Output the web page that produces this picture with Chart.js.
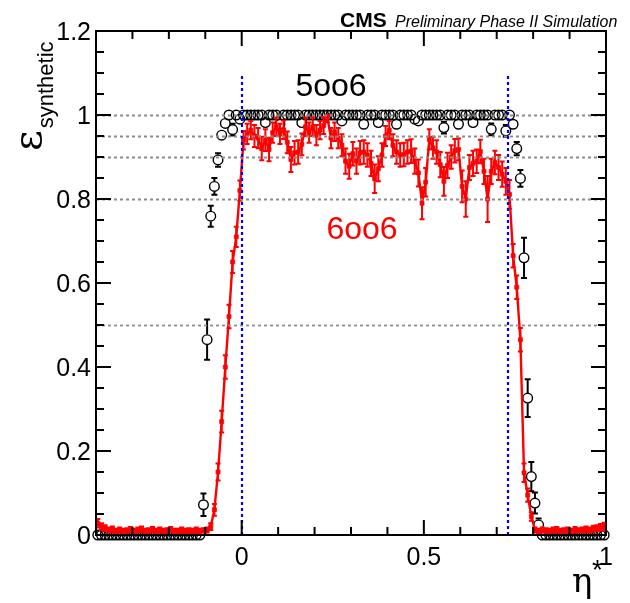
<!DOCTYPE html>
<html>
<head>
<meta charset="utf-8">
<script src="https://cdn.jsdelivr.net/npm/chart.js@4.4.1/dist/chart.umd.min.js"></script>
<style>
  html, body { margin: 0; padding: 0; background: #fff; }
</style>
</head>
<body>
<canvas id="effChart" width="630" height="603"></canvas>
<script>
// binning of eta* : 140 bins of 0.01 from -0.4 to 1.0
const etaMin = -0.4;
const etaMax = 1.0;
const binWidth = 0.01;

// 5oo6 efficiency (open black circles) and its errors
const eff5oo6 = [
  0, 0, 0, 0, 0, 0, 0, 0, 0, 0,
  0, 0, 0, 0, 0, 0, 0, 0, 0, 0,
  0, 0, 0, 0, 0, 0, 0, 0, 0, 0.072,
  0.465, 0.759, 0.830, 0.893, 0.952, 0.980, 1, 0.965, 1, 0.990,
  1, 1, 1, 1, 1, 1, 0.982, 1, 1, 1,
  0.978, 1, 1, 1, 1, 1, 0.982, 1, 1, 1,
  1, 1, 1, 1, 1, 1, 1, 0.986, 1, 1,
  1, 1, 1, 0.978, 1, 1, 1, 0.982, 1, 1,
  1, 1, 0.978, 1, 1, 1, 1, 0.990, 0.986, 1,
  1, 1, 1, 1, 1, 0.970, 1, 1, 1, 0.978,
  1, 1, 1, 0.982, 1, 1, 1, 1, 0.966, 1,
  1, 1, 0.962, 1, 0.978, 0.920, 0.849, 0.660, 0.326, 0.139,
  0.076, 0.024, 0, 0, 0, 0, 0, 0, 0, 0,
  0, 0, 0, 0, 0, 0, 0, 0, 0, 0
];
const err5oo6 = [
  0, 0, 0, 0, 0, 0, 0, 0, 0, 0,
  0, 0, 0, 0, 0, 0, 0, 0, 0, 0,
  0, 0, 0, 0, 0, 0, 0, 0, 0, 0.027,
  0.048, 0.025, 0.020, 0.016, 0.012, 0.008, 0.004, 0.014, 0.004, 0.008,
  0.004, 0.004, 0.004, 0.004, 0.004, 0.004, 0.012, 0.004, 0.004, 0.004,
  0.012, 0.004, 0.004, 0.004, 0.004, 0.004, 0.012, 0.004, 0.004, 0.004,
  0.004, 0.004, 0.004, 0.004, 0.004, 0.004, 0.004, 0.012, 0.004, 0.004,
  0.004, 0.004, 0.004, 0.012, 0.004, 0.004, 0.004, 0.012, 0.004, 0.004,
  0.004, 0.004, 0.012, 0.004, 0.004, 0.004, 0.004, 0.008, 0.012, 0.004,
  0.004, 0.004, 0.004, 0.004, 0.004, 0.014, 0.004, 0.004, 0.004, 0.012,
  0.004, 0.004, 0.004, 0.012, 0.004, 0.004, 0.004, 0.004, 0.014, 0.004,
  0.004, 0.004, 0.014, 0.004, 0.012, 0.016, 0.020, 0.048, 0.045, 0.035,
  0.025, 0.015, 0, 0, 0, 0, 0, 0, 0, 0,
  0, 0, 0, 0, 0, 0, 0, 0, 0, 0
];

// 6oo6 efficiency (red squares + line) and its errors
const eff6oo6 = [
  0.028, 0.020, 0.016, 0.012, 0.014, 0.010, 0.012, 0.010, 0.011, 0.013,
  0.010, 0.012, 0.014, 0.010, 0.011, 0.013, 0.010, 0.012, 0.010, 0.011,
  0.013, 0.010, 0.010, 0.012, 0.010, 0.011, 0.010, 0.012, 0.010, 0.011,
  0.012, 0.020, 0.060, 0.150, 0.270, 0.400, 0.520, 0.650, 0.710, 0.820,
  0.940, 0.955, 0.964, 0.950, 0.945, 0.920, 0.940, 0.918, 0.958, 0.972,
  0.955, 0.965, 0.935, 0.894, 0.910, 0.912, 0.930, 0.972, 0.958, 0.972,
  0.952, 0.964, 0.975, 0.995, 0.945, 0.960, 0.945, 0.928, 0.890, 0.878,
  0.908, 0.890, 0.910, 0.912, 0.905, 0.885, 0.848, 0.872, 0.905, 0.950,
  0.964, 0.928, 0.912, 0.905, 0.906, 0.912, 0.914, 0.890, 0.862, 0.790,
  0.840, 0.942, 0.922, 0.912, 0.882, 0.842, 0.880, 0.900, 0.915, 0.918,
  0.830, 0.800, 0.875, 0.885, 0.890, 0.913, 0.866, 0.800, 0.866, 0.887,
  0.875, 0.859, 0.842, 0.811, 0.665, 0.590, 0.465, 0.148, 0.095, 0.044,
  0.012, 0.010, 0.012, 0.011, 0.010, 0.012, 0.013, 0.010, 0.011, 0.012,
  0.010, 0.013, 0.011, 0.012, 0.014, 0.012, 0.015, 0.016, 0.018, 0.020
];
const err6oo6 = [
  0.010, 0.008, 0.007, 0.006, 0.006, 0.005, 0.006, 0.005, 0.005, 0.006,
  0.005, 0.006, 0.006, 0.005, 0.005, 0.006, 0.005, 0.006, 0.005, 0.005,
  0.006, 0.005, 0.005, 0.006, 0.005, 0.005, 0.005, 0.006, 0.005, 0.005,
  0.006, 0.008, 0.014, 0.020, 0.026, 0.028, 0.028, 0.026, 0.024, 0.024,
  0.022, 0.024, 0.022, 0.026, 0.024, 0.028, 0.026, 0.028, 0.024, 0.022,
  0.024, 0.022, 0.026, 0.030, 0.028, 0.028, 0.026, 0.022, 0.024, 0.022,
  0.024, 0.022, 0.020, 0.012, 0.024, 0.022, 0.024, 0.026, 0.030, 0.030,
  0.028, 0.030, 0.028, 0.028, 0.028, 0.030, 0.034, 0.030, 0.028, 0.024,
  0.022, 0.026, 0.028, 0.028, 0.028, 0.028, 0.028, 0.030, 0.032, 0.038,
  0.034, 0.024, 0.026, 0.028, 0.030, 0.034, 0.030, 0.028, 0.028, 0.026,
  0.038, 0.042, 0.030, 0.030, 0.028, 0.028, 0.030, 0.055, 0.030, 0.028,
  0.030, 0.030, 0.032, 0.034, 0.028, 0.028, 0.028, 0.022, 0.016, 0.010,
  0.006, 0.005, 0.006, 0.005, 0.005, 0.006, 0.006, 0.005, 0.005, 0.006,
  0.005, 0.006, 0.005, 0.006, 0.006, 0.006, 0.007, 0.007, 0.008, 0.009
];

// axes, ticks and guide lines
const xTickLabels = [0, 0.5, 1];
const xMinorTicks = [-0.3, -0.2, -0.1, 0.1, 0.2, 0.3, 0.4, 0.6, 0.7, 0.8, 0.9];
const yTickLabels = [0, 0.2, 0.4, 0.6, 0.8, 1, 1.2];
const yMinorTicks = [0.05, 0.1, 0.15, 0.25, 0.3, 0.35, 0.45, 0.5, 0.55, 0.65, 0.7, 0.75,
                     0.85, 0.9, 0.95, 1.05, 1.1, 1.15];
const refLevels = [1, 0.95, 0.9, 0.8, 0.5];
const etaEdges = [0, 0.732];
const etaEdgeTop = 1.1;

const binCentre = i => etaMin + (i + 0.5) * binWidth;
const toPoints = vals => vals.map((v, i) => ({ x: binCentre(i), y: v }));

const SANS = '"Liberation Sans", Arial, Helvetica, sans-serif';
const SERIF = '"DejaVu Serif", "Liberation Serif", serif';

// error bars, drawn before each dataset
const errorBars = {
    id: 'errorBars',
    beforeDatasetDraw(chart, args) {
        const ds = chart.data.datasets[args.index];
        const y = chart.scales.y;
        const ctx = chart.ctx;
        ctx.save();
        ctx.strokeStyle = ds.errColor;
        ctx.lineWidth = ds.errWidth;
        args.meta.data.forEach((pt, i) => {
            const e = ds.errors[i];
            if (!e) return;
            const v = ds.data[i].y;
            const yHi = y.getPixelForValue(Math.min(v + e, 1));
            const yLo = y.getPixelForValue(Math.max(v - e, 0));
            const gap = ds.errGap;
            const c = ds.capHalf;
            ctx.beginPath();
            if (pt.y - yHi > gap) {
                ctx.moveTo(pt.x, pt.y - gap); ctx.lineTo(pt.x, yHi);
                ctx.moveTo(pt.x - c, yHi); ctx.lineTo(pt.x + c, yHi);
            }
            if (yLo - pt.y > gap) {
                ctx.moveTo(pt.x, pt.y + gap); ctx.lineTo(pt.x, yLo);
                ctx.moveTo(pt.x - c, yLo); ctx.lineTo(pt.x + c, yLo);
            }
            ctx.stroke();
        });
        ctx.restore();
    }
};

// ROOT style frame, ticks, guide lines and texts
const rootFrame = {
    id: 'rootFrame',
    afterDatasetsDraw(chart) {
        const { ctx, chartArea: a, scales: { x, y } } = chart;
        ctx.save();
        ctx.lineWidth = 1.8;
        ctx.strokeStyle = '#8c8c8c';
        ctx.setLineDash([3, 3]);
        refLevels.forEach(v => {
            const py = Math.round(y.getPixelForValue(v)) + 0.5;
            ctx.beginPath(); ctx.moveTo(a.left, py); ctx.lineTo(a.right, py); ctx.stroke();
        });
        ctx.lineWidth = 2.2;
        ctx.strokeStyle = '#0000ff';
        ctx.setLineDash([3, 3]);
        etaEdges.forEach(v => {
            const px = Math.round(x.getPixelForValue(v));
            ctx.beginPath();
            ctx.moveTo(px, y.getPixelForValue(0));
            ctx.lineTo(px, y.getPixelForValue(etaEdgeTop));
            ctx.stroke();
        });
        ctx.restore();
    },
    afterDraw(chart) {
        const { ctx, chartArea: a, scales: { x, y } } = chart;
        ctx.save();
        ctx.strokeStyle = '#000';
        ctx.lineWidth = 2;
        ctx.strokeRect(a.left, a.top, a.right - a.left, a.bottom - a.top);

        const seg = (x1, y1, x2, y2) => { ctx.moveTo(x1, y1); ctx.lineTo(x2, y2); };
        ctx.beginPath();
        xTickLabels.concat(xMinorTicks).forEach(v => {
            const len = xTickLabels.includes(v) ? 15 : 8;
            const px = x.getPixelForValue(v);
            seg(px, a.bottom, px, a.bottom - len);
            seg(px, a.top, px, a.top + len);
        });
        yTickLabels.concat(yMinorTicks).forEach(v => {
            const len = yTickLabels.includes(v) ? 15 : 8;
            const py = y.getPixelForValue(v);
            seg(a.left, py, a.left + len, py);
            seg(a.right, py, a.right - len, py);
        });
        ctx.stroke();

        // tick labels
        ctx.fillStyle = '#000';
        ctx.font = '25px ' + SANS;
        ctx.textBaseline = 'alphabetic';
        ctx.textAlign = 'center';
        xTickLabels.forEach(v => ctx.fillText(String(v), x.getPixelForValue(v), a.bottom + 30));
        ctx.textAlign = 'right';
        yTickLabels.forEach(v => ctx.fillText(String(v), a.left - 5, y.getPixelForValue(v) + 9));

        // x title: eta*
        ctx.textAlign = 'left';
        ctx.font = '34px ' + SERIF;
        ctx.fillText('η', 572, 592);
        ctx.font = '28px ' + SANS;
        ctx.fillText('*', 592, 579);

        // y title: epsilon_synthetic (rotated)
        ctx.save();
        ctx.translate(41, 151);
        ctx.rotate(-Math.PI / 2);
        ctx.font = '40px ' + SERIF;
        ctx.fillText('ε', 0, 0);
        const w = ctx.measureText('ε').width;
        ctx.font = '22px ' + SANS;
        ctx.fillText('synthetic', w + 2, 12);
        ctx.restore();

        // header
        ctx.font = 'bold 21px ' + SANS;
        ctx.fillText('CMS', 340, 27);
        ctx.font = 'italic 16px ' + SANS;
        ctx.fillText('Preliminary Phase II Simulation', 395, 27);

        // series labels
        ctx.textAlign = 'center';
        ctx.font = '32px ' + SANS;
        ctx.fillStyle = '#000';
        ctx.fillText('5oo6', 331, 96);
        ctx.fillStyle = '#ff0000';
        ctx.fillText('6oo6', 362, 239);
        ctx.restore();
    }
};

document.addEventListener('DOMContentLoaded', function () {
    const ctx = document.getElementById('effChart').getContext('2d');
    new Chart(ctx, {
        type: 'scatter',
        data: {
            datasets: [{
                label: '6oo6',
                data: toPoints(eff6oo6),
                errors: err6oo6,
                errColor: '#ff0000',
                errWidth: 2,
                errGap: 0,
                capHalf: 2.5,
                showLine: true,
                borderColor: '#ff0000',
                borderWidth: 2.4,
                pointStyle: 'rect',
                pointRadius: 2.8,
                pointBorderWidth: 0.8,
                pointBorderColor: '#ff0000',
                pointBackgroundColor: '#ff0000',
                clip: false
            }, {
                label: '5oo6',
                data: toPoints(eff5oo6),
                errors: err5oo6,
                errColor: '#000',
                errWidth: 2,
                errGap: 5.2,
                capHalf: 3,
                showLine: false,
                pointStyle: 'circle',
                pointRadius: 4.8,
                pointBorderWidth: 1.4,
                pointBorderColor: '#000',
                pointBackgroundColor: 'rgba(255,255,255,0)',
                clip: false
            }]
        },
        options: {
            responsive: false,
            animation: false,
            devicePixelRatio: 1,
            layout: { padding: { left: 96, top: 31, right: 24, bottom: 68 } },
            plugins: { legend: { display: false }, tooltip: { enabled: false } },
            scales: {
                x: { type: 'linear', min: etaMin, max: etaMax, display: false },
                y: { type: 'linear', min: 0, max: 1.2, display: false }
            }
        },
        plugins: [errorBars, rootFrame]
    });
});
</script>
</body>
</html>
